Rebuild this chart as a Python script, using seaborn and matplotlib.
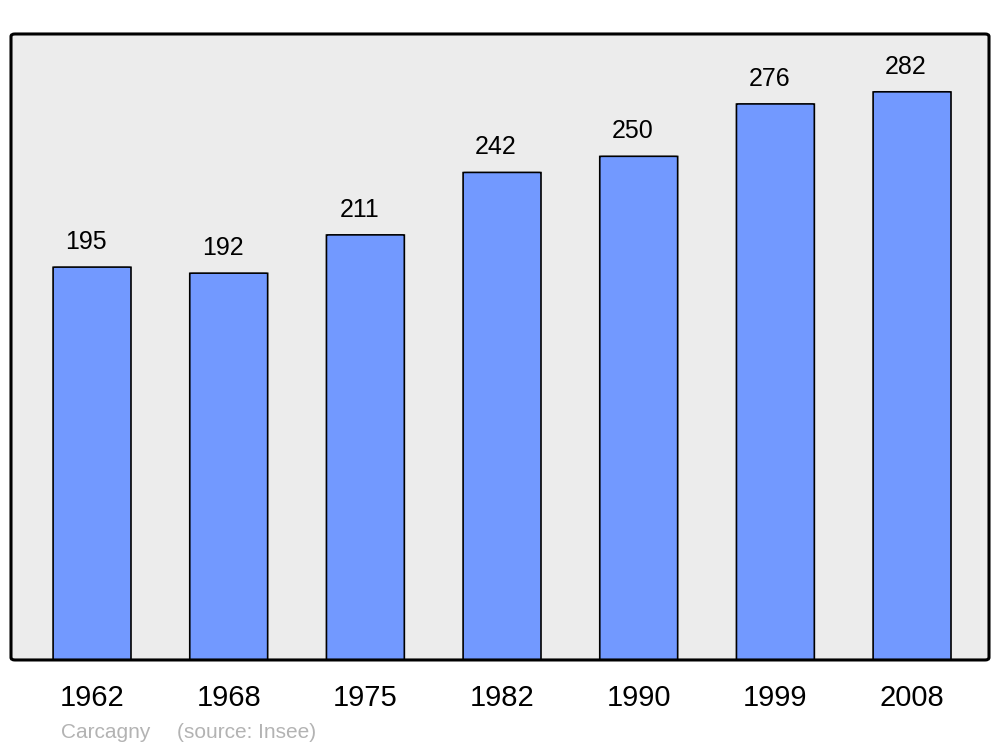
import matplotlib
matplotlib.use("Agg")
import matplotlib.pyplot as plt
import seaborn as sns
import pandas as pd
from matplotlib.patches import FancyBboxPatch

# population data
years = ["1962", "1968", "1975", "1982", "1990", "1999", "2008"]
population = [195, 192, 211, 242, 250, 276, 282]
commune = "Carcagny"
source = "(source: Insee)"

df = pd.DataFrame({"year": years, "pop": population})

sns.set_style("white")
plt.rcParams["font.family"] = ["Liberation Sans", "DejaVu Sans"]

fig = plt.figure(figsize=(10, 7.47), dpi=100)
ax = fig.add_axes([0.011, 0.1165, 0.978, 0.838])
ax.set_facecolor("#ececec")

sns.barplot(data=df, x="year", y="pop", color="#7299ff", saturation=1,
            width=0.57, edgecolor="black", linewidth=1.2, ax=ax)

# rounded bar corners
for p in list(ax.patches):
    x, y = p.get_x(), p.get_y()
    w, h = p.get_width(), p.get_height()
    rb = FancyBboxPatch((x, y), w, h, boxstyle="round,pad=0,rounding_size=0.03",
                        mutation_aspect=2.5,
                        facecolor="#7299ff", edgecolor="black", linewidth=1.2, zorder=3)
    p.remove()
    ax.add_patch(rb)

for i, v in enumerate(population):
    ax.text(i - 0.045, v + 9, str(v), ha="center", va="baseline", fontsize=18, color="black")

ax.set_xlim(-0.593, 6.563)
ax.set_ylim(0, 310.7)
ax.set_yticks([])
ax.set_xlabel("")
ax.set_ylabel("")
ax.tick_params(axis="x", length=0, labelsize=21, pad=17, labelcolor="black")

for s in ax.spines.values():
    s.set_visible(False)
frame = FancyBboxPatch((0, 0), 1, 1, boxstyle="round,pad=0,rounding_size=0.004",
                       transform=ax.transAxes, facecolor="none", edgecolor="black",
                       linewidth=2.2, clip_on=False, zorder=5)
ax.add_patch(frame)

fig.text(0.061, 0.0125, commune, fontsize=15, color="#b3b3b3", ha="left", va="baseline")
fig.text(0.177, 0.0125, source, fontsize=15, color="#b3b3b3", ha="left", va="baseline")

fig.savefig("out.png", dpi=100)
